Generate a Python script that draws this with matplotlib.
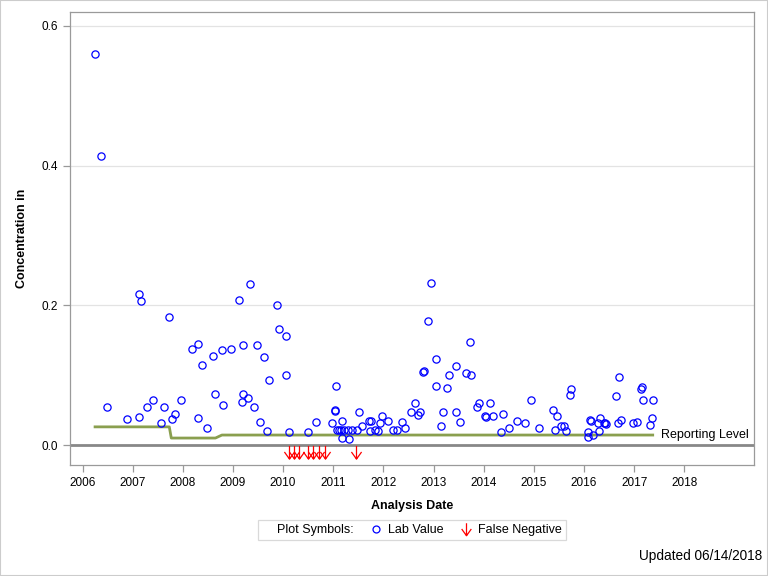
import matplotlib
matplotlib.use("Agg")
import matplotlib.pyplot as plt
from matplotlib.path import Path
from matplotlib.lines import Line2D
from matplotlib.patches import Rectangle

plt.rcParams['font.family'] = ['Liberation Sans', 'DejaVu Sans']

# lab values: decimal year, concentration
lab_dates = [2006.25, 2006.37, 2006.49, 2006.88, 2007.12, 2007.12, 2007.16, 2007.28, 2007.40, 2007.56,
             2007.62, 2007.72, 2007.78, 2007.84, 2007.96, 2008.18, 2008.30, 2008.30, 2008.38, 2008.48,
             2008.61, 2008.65, 2008.78, 2008.81, 2008.96, 2009.13, 2009.19, 2009.19, 2009.17, 2009.30,
             2009.33, 2009.41, 2009.47, 2009.53, 2009.61, 2009.67, 2009.71, 2009.87, 2009.91, 2010.05,
             2010.05, 2010.11, 2010.49, 2010.65, 2010.97, 2011.03, 2011.04, 2011.05, 2011.07, 2011.11,
             2011.17, 2011.15, 2011.17, 2011.22, 2011.29, 2011.31, 2011.37, 2011.47, 2011.51, 2011.57,
             2011.71, 2011.75, 2011.73, 2011.83, 2011.89, 2011.93, 2011.97, 2012.09, 2012.19, 2012.27,
             2012.37, 2012.43, 2012.55, 2012.63, 2012.69, 2012.73, 2012.79, 2012.80, 2012.89, 2012.94,
             2013.05, 2013.05, 2013.15, 2013.19, 2013.27, 2013.31, 2013.45, 2013.45, 2013.52, 2013.64,
             2013.72, 2013.74, 2013.86, 2013.90, 2014.02, 2014.05, 2014.12, 2014.18, 2014.38, 2014.34,
             2014.50, 2014.66, 2014.82, 2014.94, 2015.10, 2015.38, 2015.46, 2015.42, 2015.54, 2015.60,
             2015.64, 2015.72, 2015.74, 2016.08, 2016.08, 2016.18, 2016.12, 2016.13, 2016.30, 2016.28,
             2016.32, 2016.39, 2016.41, 2016.43, 2016.64, 2016.70, 2016.68, 2016.74, 2016.97, 2017.06,
             2017.14, 2017.16, 2017.18, 2017.32, 2017.36, 2017.38]
lab_values = [0.560, 0.414, 0.054, 0.037, 0.040, 0.216, 0.206, 0.054, 0.064, 0.031,
              0.054, 0.183, 0.037, 0.044, 0.065, 0.137, 0.144, 0.038, 0.114, 0.024,
              0.127, 0.073, 0.136, 0.057, 0.138, 0.207, 0.143, 0.073, 0.061, 0.067,
              0.230, 0.055, 0.143, 0.033, 0.126, 0.020, 0.093, 0.201, 0.166, 0.156,
              0.100, 0.018, 0.018, 0.033, 0.031, 0.050, 0.049, 0.084, 0.022, 0.022,
              0.035, 0.021, 0.010, 0.022, 0.021, 0.008, 0.022, 0.021, 0.047, 0.027,
              0.035, 0.035, 0.020, 0.021, 0.020, 0.032, 0.041, 0.035, 0.021, 0.022,
              0.033, 0.024, 0.048, 0.060, 0.043, 0.047, 0.104, 0.106, 0.177, 0.232,
              0.123, 0.084, 0.027, 0.047, 0.081, 0.100, 0.113, 0.047, 0.033, 0.103,
              0.147, 0.100, 0.055, 0.060, 0.041, 0.040, 0.060, 0.041, 0.044, 0.018,
              0.025, 0.034, 0.031, 0.064, 0.024, 0.050, 0.041, 0.022, 0.027, 0.027,
              0.020, 0.072, 0.080, 0.019, 0.012, 0.015, 0.036, 0.035, 0.020, 0.031,
              0.038, 0.032, 0.031, 0.030, 0.070, 0.097, 0.031, 0.036, 0.031, 0.033,
              0.080, 0.083, 0.065, 0.028, 0.038, 0.064]

# false negatives (dates only)
fn_dates = [2010.11, 2010.21, 2010.31, 2010.50, 2010.59, 2010.72, 2010.83, 2011.46]
fn_level = -0.0107

# reporting level step line
rl_dates = [2006.25, 2007.73, 2007.77, 2008.65, 2008.78, 2017.37]
rl_values = [0.026, 0.026, 0.010, 0.010, 0.0143, 0.0143]

years = list(range(2006, 2019))
yticks = [0.0, 0.2, 0.4, 0.6]

# open down arrow marker
arrow = Path([(0, 1), (0, -1), (-0.77, 0.08), (0, -1), (0.77, 0.08)],
             [Path.MOVETO, Path.LINETO, Path.MOVETO, Path.LINETO, Path.LINETO])

fig = plt.figure(figsize=(7.68, 5.76), dpi=100)
ax = fig.add_axes([70 / 768, 1 - 465 / 576, 684 / 768, 453 / 576])

ax.set_xlim(2005.75, 2019.39)
ax.set_ylim(-0.0286, 0.620)

for y in yticks[1:]:
    ax.axhline(y, color='#e3e3e3', lw=0.9, zorder=0)
ax.axhline(0, color='#888888', lw=2.0, zorder=1)

ax.plot(rl_dates, rl_values, color='#8a9f4f', lw=2.0, zorder=2)
ax.annotate('Reporting Level', (rl_dates[-1], rl_values[-1]), xytext=(6, 0),
            textcoords='offset points', va='center', ha='left', fontsize=9)

ax.plot(lab_dates, lab_values, linestyle='none', marker='o', markersize=5.2,
        markerfacecolor='none', markeredgecolor='#0000ff', markeredgewidth=0.9, zorder=3)
ax.plot(fn_dates, [fn_level] * len(fn_dates), linestyle='none', marker=arrow,
        markersize=9.5, markerfacecolor='none', markeredgecolor='#ff0000',
        markeredgewidth=0.9, zorder=3)

ax.set_xticks(years)
ax.set_xticklabels([str(y) for y in years])
ax.set_yticks(yticks)
ax.set_yticklabels(['%.1f' % y for y in yticks])
ax.tick_params(axis='both', labelsize=8.5, color='#999999', length=5, width=0.9)
for s in ax.spines.values():
    s.set_color('#9a9a9a')
    s.set_linewidth(0.9)

ax.set_xlabel('Analysis Date', fontsize=9, fontweight='bold', labelpad=8)
ax.set_ylabel('Concentration in', fontsize=9, fontweight='bold', labelpad=10)

handles = [Line2D([], [], linestyle='none'),
           Line2D([], [], linestyle='none', marker='o', markersize=5, markerfacecolor='none',
                  markeredgecolor='#0000ff', markeredgewidth=0.9),
           Line2D([], [], linestyle='none', marker=arrow, markersize=9, markerfacecolor='none',
                  markeredgecolor='#ff0000', markeredgewidth=0.9)]
labels = ['Plot Symbols:', 'Lab Value', 'False Negative']
leg = fig.legend(handles, labels, loc='center', bbox_to_anchor=(412 / 768, 1 - 530 / 576),
                 ncol=3, fontsize=9, frameon=True, fancybox=False, handlelength=0.5,
                 handletextpad=0.7, columnspacing=1.55, borderpad=0.35, borderaxespad=0)
leg.get_frame().set_edgecolor('#d0d0d0')
leg.get_frame().set_linewidth(0.9)

fig.text(762 / 768, 1 - 556 / 576, 'Updated 06/14/2018', ha='right', va='center', fontsize=9.8)

fig.patches.append(Rectangle((0, 0), 1, 1, transform=fig.transFigure, fill=False,
                             edgecolor='#cccccc', lw=1.5))

fig.savefig('out.png', dpi=100)
